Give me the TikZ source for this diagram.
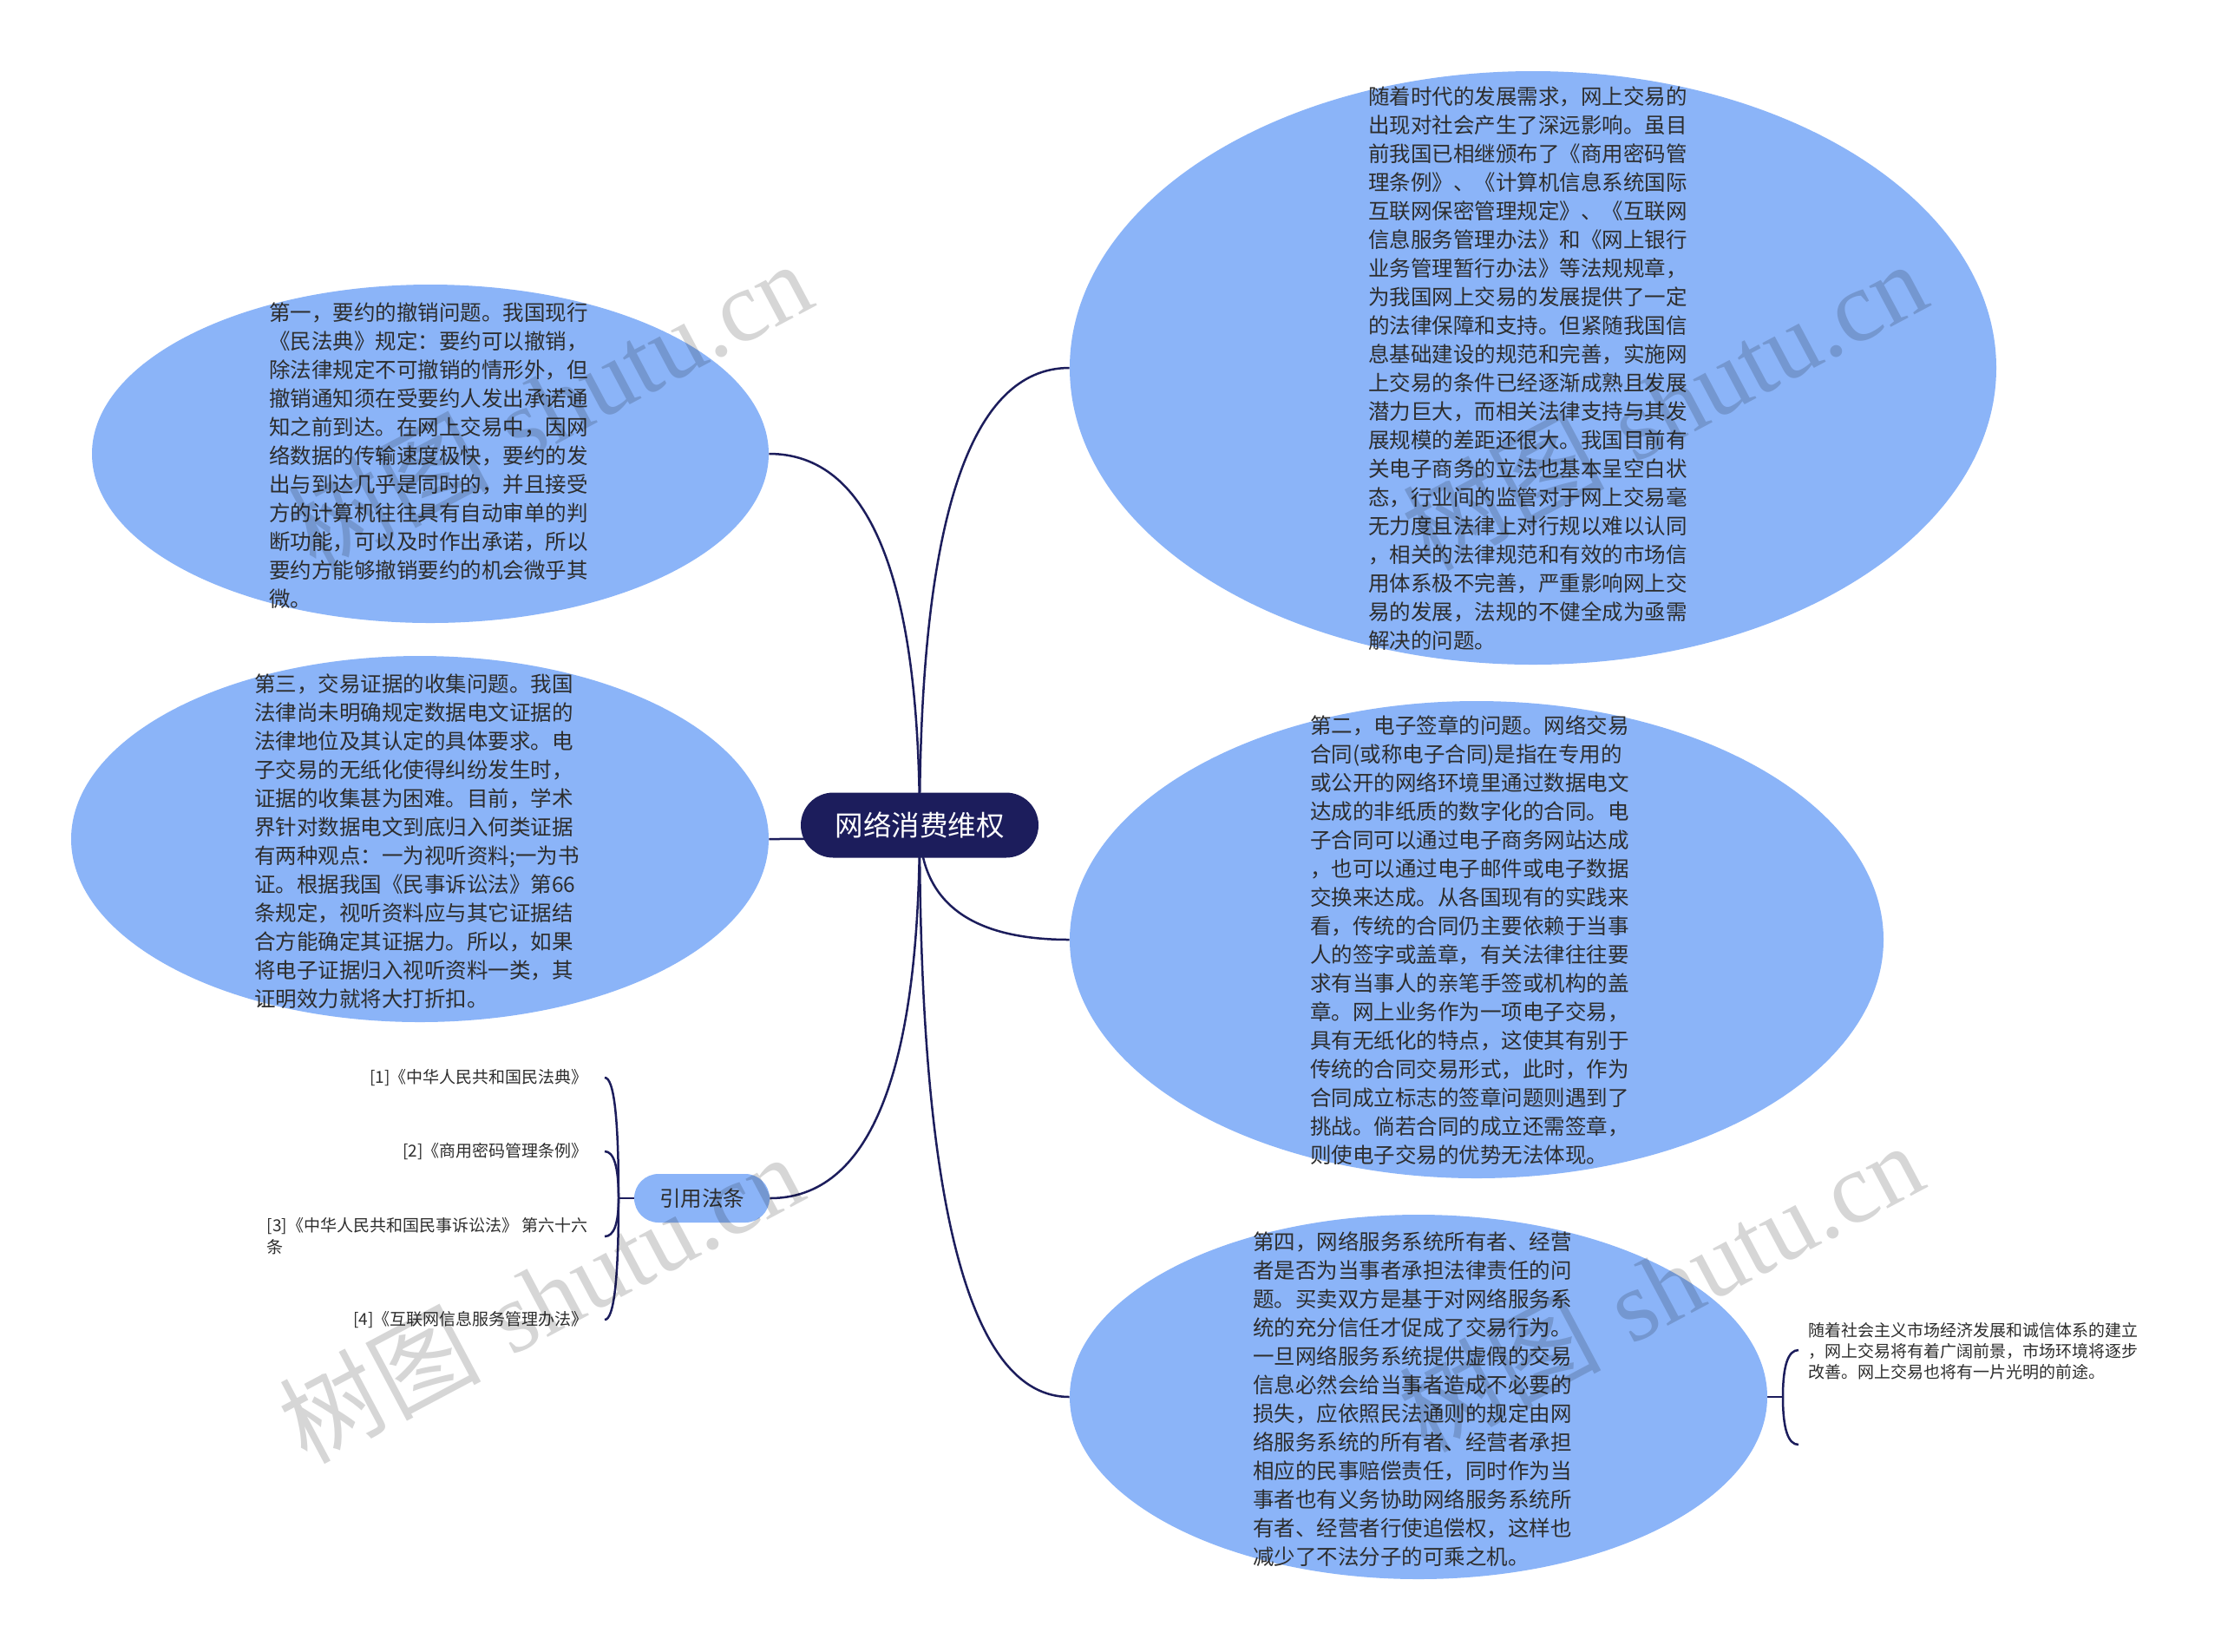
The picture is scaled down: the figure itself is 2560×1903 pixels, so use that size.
\documentclass[tikz,border=0pt]{standalone}
\usepackage{fontspec}
\newfontfamily\cjk{Noto Sans CJK SC}
\newfontfamily\wmserif{Liberation Serif}
\usetikzlibrary{shapes.geometric,calc}
\definecolor{navy}{RGB}{28,29,92}
\definecolor{bubblefill}{RGB}{139,180,248}
\definecolor{ink}{RGB}{45,45,45}
\pgfdeclarelayer{bg}
\pgfdeclarelayer{links}
\pgfsetlayers{bg,links,main}
\begin{document}
\begin{tikzpicture}[x=0.5pt,y=-0.5pt,
  bubble/.style={ellipse, fill=bubblefill, draw=none, inner sep=0pt},
  body/.style={anchor=west, align=left, inner sep=0pt, text=ink, font=\cjk\fontsize{12.25}{16.5}\selectfont},
  small/.style={align=left, inner sep=0pt, text=ink, font=\cjk\fontsize{9.5}{12.5}\selectfont},
  link/.style={draw=navy, line width=1.25pt},
  mmlink/.style={to path={.. controls ($(\tikztostart)!2/3!(\tikztostart|-\tikztotarget)$) and ($(\tikztotarget)!2/3!(\tikztostart|-\tikztotarget)$) .. (\tikztotarget)}},
  wm/.style={anchor=base east, rotate=28, text=black, text opacity=0.16, inner sep=0pt, font=\fontsize{58}{60}\selectfont}
]
\begin{pgfonlayer}{bg}
\fill[white] (0,0) rectangle (2560,1903);
\end{pgfonlayer}
\useasboundingbox (0,0) rectangle (2560,1903);

% central topic
\node[rectangle, rounded corners=18.75pt, fill=navy, minimum width=137pt, minimum height=37.5pt, inner sep=0pt,
      text=white, font=\cjk\fontsize{16.25}{18}\selectfont] (c) at (1060,951) {网络消费维权};

% bubbles
\node[bubble, minimum width=534pt, minimum height=342pt] (e1) at (1767,424) {};
\node[bubble, minimum width=390pt, minimum height=195pt] (e2) at (496,523) {};
\node[bubble, minimum width=402pt, minimum height=211pt] (e3) at (484,967) {};
\node[bubble, minimum width=469pt, minimum height=275pt] (e4) at (1702,1083) {};
\node[bubble, minimum width=402pt, minimum height=210pt] (e5) at (1635,1610) {};

\node[body] (t1) at (1577,424.5) {随着时代的发展需求，网上交易的\\%
出现对社会产生了深远影响。虽目\\%
前我国已相继颁布了《商用密码管\\%
理条例》、《计算机信息系统国际\\%
互联网保密管理规定》、《互联网\\%
信息服务管理办法》和《网上银行\\%
业务管理暂行办法》等法规规章，\\%
为我国网上交易的发展提供了一定\\%
的法律保障和支持。但紧随我国信\\%
息基础建设的规范和完善，实施网\\%
上交易的条件已经逐渐成熟且发展\\%
潜力巨大，而相关法律支持与其发\\%
展规模的差距还很大。我国目前有\\%
关电子商务的立法也基本呈空白状\\%
态，行业间的监管对于网上交易毫\\%
无力度且法律上对行规以难以认同\\%
，相关的法律规范和有效的市场信\\%
用体系极不完善，严重影响网上交\\%
易的发展，法规的不健全成为亟需\\%
解决的问题。};

\node[body] (t2) at (310,525) {第一，要约的撤销问题。我国现行\\%
《民法典》规定：要约可以撤销，\\%
除法律规定不可撤销的情形外，但\\%
撤销通知须在受要约人发出承诺通\\%
知之前到达。在网上交易中，因网\\%
络数据的传输速度极快，要约的发\\%
出与到达几乎是同时的，并且接受\\%
方的计算机往往具有自动审单的判\\%
断功能，可以及时作出承诺，所以\\%
要约方能够撤销要约的机会微乎其\\%
微。};

\node[body] (t3) at (293,970) {第三，交易证据的收集问题。我国\\%
法律尚未明确规定数据电文证据的\\%
法律地位及其认定的具体要求。电\\%
子交易的无纸化使得纠纷发生时，\\%
证据的收集甚为困难。目前，学术\\%
界针对数据电文到底归入何类证据\\%
有两种观点：一为视听资料;一为书\\%
证。根据我国《民事诉讼法》第66\\%
条规定，视听资料应与其它证据结\\%
合方能确定其证据力。所以，如果\\%
将电子证据归入视听资料一类，其\\%
证明效力就将大打折扣。};

\node[body] (t4) at (1510,1084) {第二，电子签章的问题。网络交易\\%
合同(或称电子合同)是指在专用的\\%
或公开的网络环境里通过数据电文\\%
达成的非纸质的数字化的合同。电\\%
子合同可以通过电子商务网站达成\\%
，也可以通过电子邮件或电子数据\\%
交换来达成。从各国现有的实践来\\%
看，传统的合同仍主要依赖于当事\\%
人的签字或盖章，有关法律往往要\\%
求有当事人的亲笔手签或机构的盖\\%
章。网上业务作为一项电子交易，\\%
具有无纸化的特点，这使其有别于\\%
传统的合同交易形式，此时，作为\\%
合同成立标志的签章问题则遇到了\\%
挑战。倘若合同的成立还需签章，\\%
则使电子交易的优势无法体现。};

\node[body] (t5) at (1444,1613) {第四，网络服务系统所有者、经营\\%
者是否为当事者承担法律责任的问\\%
题。买卖双方是基于对网络服务系\\%
统的充分信任才促成了交易行为。\\%
一旦网络服务系统提供虚假的交易\\%
信息必然会给当事者造成不必要的\\%
损失，应依照民法通则的规定由网\\%
络服务系统的所有者、经营者承担\\%
相应的民事赔偿责任，同时作为当\\%
事者也有义务协助网络服务系统所\\%
有者、经营者行使追偿权，这样也\\%
减少了不法分子的可乘之机。};

% citation pill and references
\node[rectangle, rounded corners=14pt, fill=bubblefill, minimum width=78pt, minimum height=28pt, inner sep=0pt,
      text=ink, font=\cjk\fontsize{12.25}{14}\selectfont] (p) at (809,1381) {引用法条};
\node[small, anchor=east] (r1) at (678,1242) {[1]《中华人民共和国民法典》};
\node[small, anchor=east] (r2) at (678,1327) {[2]《商用密码管理条例》};
\node[small, anchor=east] (r3) at (678,1425) {[3]《中华人民共和国民事诉讼法》 第六十六\\%
条};
\node[small, anchor=east] (r4) at (678,1521) {[4]《互联网信息服务管理办法》};

% child of e5
\node[small, anchor=west, font=\cjk\fontsize{9.5}{12}\selectfont] (s5) at (2084,1557) {随着社会主义市场经济发展和诚信体系的建立\\%
，网上交易将有着广阔前景，市场环境将逐步\\%
改善。网上交易也将有一片光明的前途。};

% helper coordinates
\coordinate (rs) at (713,1381);
\coordinate (r1e) at ([xshift=9.5pt]r1.east);
\coordinate (r2e) at ([xshift=9.5pt]r2.east);
\coordinate (r3e) at ([xshift=9.5pt]r3.east);
\coordinate (r4e) at ([xshift=9.5pt]r4.east);
\coordinate (b5) at (2055,1610);
\coordinate (b5t) at (2073,1556);
\coordinate (b5b) at (2073,1665);

\begin{pgfonlayer}{links}
\draw[link] (c.center) to[mmlink] (e1.west);
\draw[link] (c.center) to[mmlink] (e2.east);
\draw[link] (c.center) to[mmlink] (e3.east);
\draw[link] (c.center) to[mmlink] (e4.west);
\draw[link] (c.center) to[mmlink] (e5.west);
\draw[link] (c.center) to[mmlink] (p.east);
\draw[link] (p.west) -- (rs);
\draw[link] (rs) to[mmlink] (r1e);
\draw[link] (rs) to[mmlink] (r2e);
\draw[link] (rs) to[mmlink] (r3e);
\draw[link] (rs) to[mmlink] (r4e);
\draw[link] (e5.east) -- (b5);
\draw[link] (b5) to[mmlink] (b5t);
\draw[link] (b5) to[mmlink] (b5b);
\end{pgfonlayer}

% watermarks
\node[wm] (w1) at (944,351) {{\cjk 树图} {\wmserif shutu.cn}};
\node[wm] (w2) at (2229,351) {{\cjk 树图} {\wmserif shutu.cn}};
\node[wm] (w3) at (934,1380) {{\cjk 树图} {\wmserif shutu.cn}};
\node[wm] (w4) at (2225,1367) {{\cjk 树图} {\wmserif shutu.cn}};
\end{tikzpicture}
\end{document}
